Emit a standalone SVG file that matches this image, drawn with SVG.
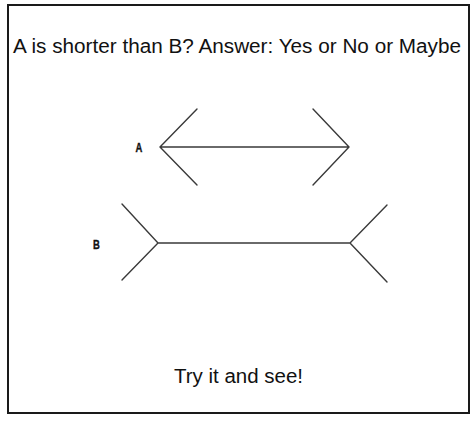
<svg xmlns="http://www.w3.org/2000/svg" width="476" height="423" viewBox="0 0 476 423">
<style>
.t{font-family:"Liberation Sans",Arial,sans-serif;fill:#111}
.lbl{font-family:"Liberation Sans",Arial,sans-serif;font-weight:bold;font-size:13.5px;fill:#111;stroke:#111;stroke-width:0.4}
.ln{stroke:#3a3a3a;stroke-width:1.4;fill:none;stroke-linecap:round}
</style>
<rect x="0" y="0" width="476" height="423" fill="#fff"/>
<rect x="8" y="5" width="461" height="408" fill="none" stroke="#1a1a1a" stroke-width="2"/>
<text class="t" x="13" y="53" font-size="20" textLength="448" lengthAdjust="spacingAndGlyphs">A is shorter than B? Answer: Yes or No or Maybe</text>
<g id="figA">
<text class="lbl" x="139" y="152" text-anchor="middle" transform="translate(139 0) scale(0.7 1) translate(-139 0)">A</text>
<path class="ln" d="M197 109 L160 147 L197 185 M160 147 L349 147 M313 109 L349 147 L313 185"/>
</g>
<g id="figB">
<text class="lbl" x="96.5" y="249" text-anchor="middle" transform="translate(96.5 0) scale(0.7 1) translate(-96.5 0)">B</text>
<path class="ln" d="M122 204 L158 243 L122 280 M158 243 L350 243 M387 205 L350 243 L387 282"/>
</g>
<text class="t" x="174" y="383" font-size="20" textLength="129" lengthAdjust="spacingAndGlyphs">Try it and see!</text>
</svg>
